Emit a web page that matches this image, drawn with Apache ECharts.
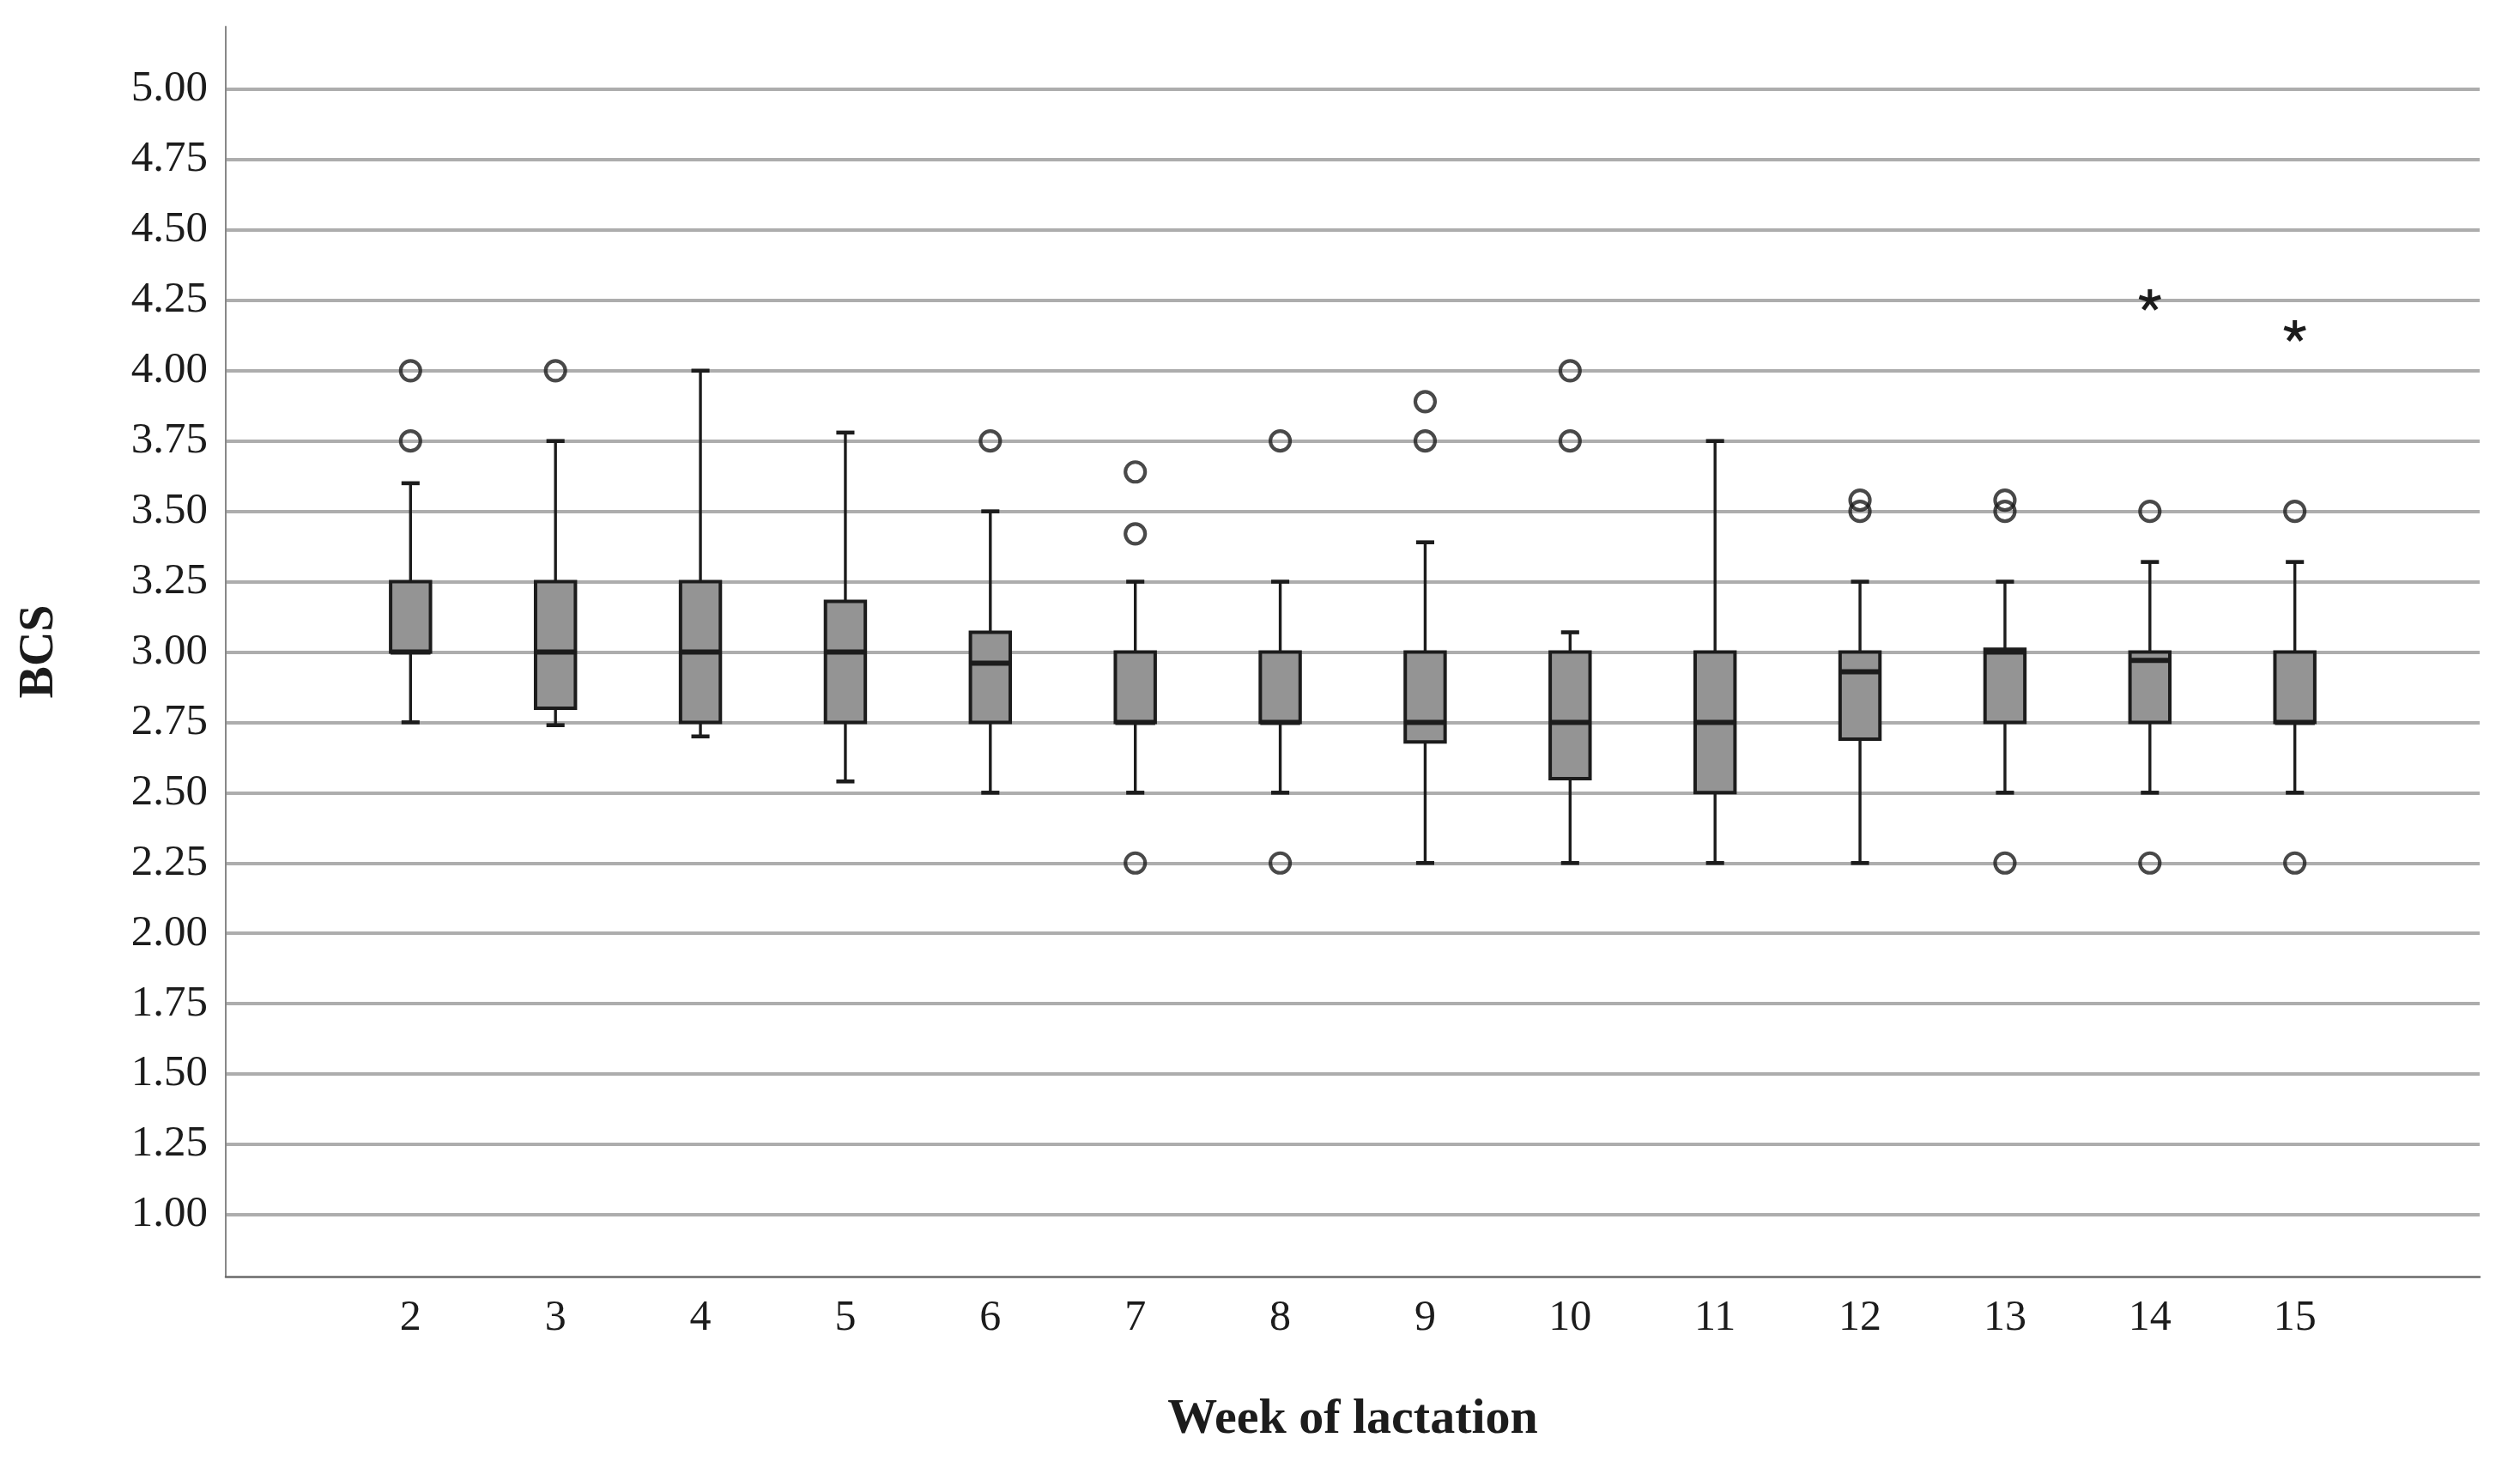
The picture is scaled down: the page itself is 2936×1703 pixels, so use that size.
<!DOCTYPE html>
<html>
<head>
<meta charset="utf-8">
<script src="https://cdn.jsdelivr.net/npm/echarts@6/dist/echarts.min.js"></script>
<style>
html,body{margin:0;padding:0;background:#fff;}
#chart{width:2936px;height:1703px;}
</style>
</head>
<body>
<div id="chart"></div>
<script>
// ---- data ----
const weeks        = [2, 3, 4, 5, 6, 7, 8, 9, 10, 11, 12, 13, 14, 15];
const lowerWhisker = [2.75, 2.74, 2.70, 2.54, 2.50, 2.50, 2.50, 2.25, 2.25, 2.25, 2.25, 2.50, 2.50, 2.50];
const q1           = [3.00, 2.80, 2.75, 2.75, 2.75, 2.75, 2.75, 2.68, 2.55, 2.50, 2.69, 2.75, 2.75, 2.75];
const median       = [3.00, 3.00, 3.00, 3.00, 2.96, 2.75, 2.75, 2.75, 2.75, 2.75, 2.93, 3.00, 2.97, 2.75];
const q3           = [3.25, 3.25, 3.25, 3.18, 3.07, 3.00, 3.00, 3.00, 3.00, 3.00, 3.00, 3.01, 3.00, 3.00];
const upperWhisker = [3.60, 3.75, 4.00, 3.78, 3.50, 3.25, 3.25, 3.39, 3.07, 3.75, 3.25, 3.25, 3.32, 3.32];
const outlierWeeks  = [2, 2, 3, 6, 7, 7, 7, 8, 8, 9, 9, 10, 10, 12, 12, 13, 13, 13, 14, 14, 15, 15];
const outlierValues = [4.00, 3.75, 4.00, 3.75, 3.64, 3.42, 2.25, 3.75, 2.25, 3.89, 3.75, 4.00, 3.75, 3.54, 3.50, 3.54, 3.50, 2.25, 3.50, 2.25, 3.50, 2.25];
const extremeWeeks  = [14, 15];
const extremeValues = [4.25, 4.14];
const yTicks = [1.00, 1.25, 1.50, 1.75, 2.00, 2.25, 2.50, 2.75, 3.00, 3.25, 3.50, 3.75, 4.00, 4.25, 4.50, 4.75, 5.00];
const xTitle = 'Week of lactation';
const yTitle = 'BCS';

// ---- build ----
const boxData = weeks.map((w, i) => [w, lowerWhisker[i], q1[i], median[i], q3[i], upperWhisker[i]]);
const outlierData = outlierWeeks.map((w, i) => [w, outlierValues[i]]);
const extremeData = extremeWeeks.map((w, i) => [w, extremeValues[i]]);

const BOX_W = 0.275, CAP_W = 0.125;
const INK = '#1c1c1c';
const FONT = "'Liberation Serif', 'DejaVu Serif', serif";

function renderBox(params, api) {
  const x = api.value(0);
  const unit = api.size([1, 0])[0];
  const bw = unit * BOX_W, cw = unit * CAP_W;
  const pLo = api.coord([x, api.value(1)]);
  const pQ1 = api.coord([x, api.value(2)]);
  const pMed = api.coord([x, api.value(3)]);
  const pQ3 = api.coord([x, api.value(4)]);
  const pHi = api.coord([x, api.value(5)]);
  const cx = pQ1[0];
  const ws = { stroke: INK, lineWidth: 3.4 };
  const cs = { stroke: INK, lineWidth: 4.6 };
  return {
    type: 'group',
    children: [
      { type: 'line', shape: { x1: cx, y1: pQ3[1], x2: cx, y2: pHi[1] }, style: ws },
      { type: 'line', shape: { x1: cx - cw / 2, y1: pHi[1], x2: cx + cw / 2, y2: pHi[1] }, style: cs },
      { type: 'line', shape: { x1: cx, y1: pQ1[1], x2: cx, y2: pLo[1] }, style: ws },
      { type: 'line', shape: { x1: cx - cw / 2, y1: pLo[1], x2: cx + cw / 2, y2: pLo[1] }, style: cs },
      { type: 'rect', shape: { x: cx - bw / 2, y: pQ3[1], width: bw, height: pQ1[1] - pQ3[1] },
        style: { fill: '#949494', stroke: INK, lineWidth: 4 } },
      { type: 'line', shape: { x1: cx - bw / 2, y1: pMed[1], x2: cx + bw / 2, y2: pMed[1] },
        style: { stroke: INK, lineWidth: 6 } }
    ]
  };
}

function renderStar(params, api) {
  const p = api.coord([api.value(0), api.value(1)]);
  const r = 13;
  const children = [];
  for (let k = 0; k < 5; k++) {
    const a = -Math.PI / 2 + k * 2 * Math.PI / 5;
    children.push({ type: 'line', shape: { x1: p[0], y1: p[1], x2: p[0] + r * Math.cos(a), y2: p[1] + r * Math.sin(a) },
      style: { stroke: INK, lineWidth: 5 } });
  }
  return { type: 'group', children };
}

const chart = echarts.init(document.getElementById('chart'), null, { renderer: 'canvas' });
chart.setOption({
  animation: false,
  backgroundColor: '#ffffff',
  grid: { left: 263, right: 47, top: 31, bottom: 216, containLabel: false },
  xAxis: {
    type: 'value', min: 0.725, max: 16.275,
    axisLine: { show: true, onZero: false, lineStyle: { color: '#6a6a6a', width: 2.5 } },
    axisTick: { show: false },
    splitLine: { show: false },
    axisLabel: { customValues: weeks, fontFamily: FONT, fontSize: 50, color: INK, margin: 24 },
    name: xTitle, nameLocation: 'middle', nameGap: 138,
    nameTextStyle: { fontFamily: FONT, fontSize: 58, fontWeight: 'bold', color: INK }
  },
  yAxis: {
    type: 'value', min: 0.78, max: 5.223,
    axisLine: { show: true, onZero: false, lineStyle: { color: '#888888', width: 2 } },
    axisTick: { show: false, customValues: yTicks },
    axisLabel: { customValues: yTicks, formatter: v => Number(v).toFixed(2), fontFamily: FONT, fontSize: 51, color: INK, margin: 21 },
    splitLine: { show: true, showMinLine: true, showMaxLine: true, lineStyle: { color: '#adadad', width: 4 } },
    name: yTitle, nameLocation: 'middle', nameGap: 188,
    nameTextStyle: { fontFamily: FONT, fontSize: 56, fontWeight: 'bold', color: INK }
  },
  series: [
    { type: 'custom', renderItem: renderBox, data: boxData, encode: { x: 0, y: [1, 2, 3, 4, 5] }, z: 3 },
    { type: 'scatter', data: outlierData, symbol: 'circle', symbolSize: 23,
      itemStyle: { color: 'rgba(0,0,0,0)', borderColor: INK, borderWidth: 4.2 }, z: 4 },
    { type: 'custom', renderItem: renderStar, data: extremeData, encode: { x: 0, y: 1 }, z: 4 }
  ]
});
</script>
</body>
</html>
